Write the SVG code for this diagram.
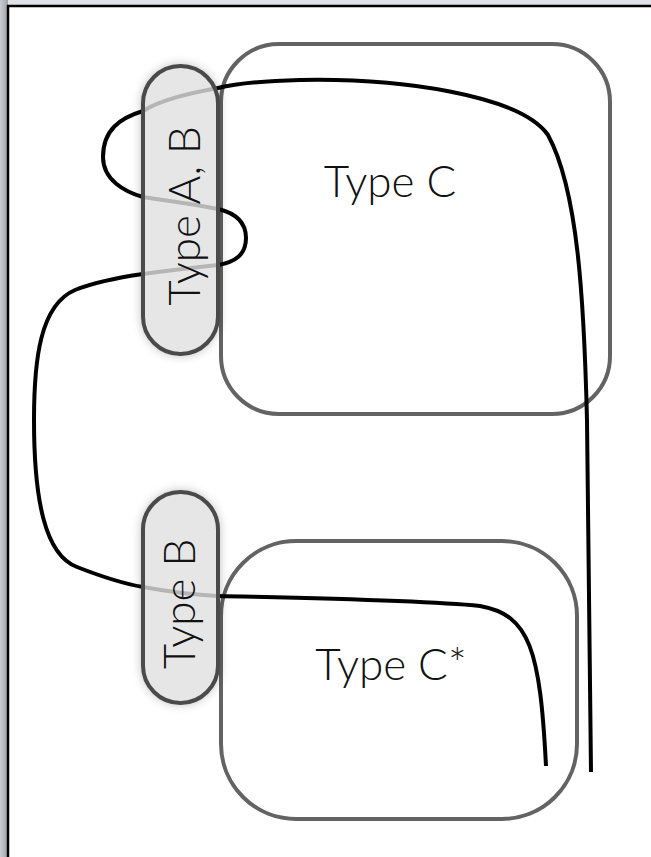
<svg xmlns="http://www.w3.org/2000/svg" width="651" height="857" viewBox="0 0 651 857">
<defs>
<style>
.box{fill:none;stroke:#636363;stroke-width:4}
.pill{fill:#e6e6e6;stroke:none}
.pillstroke{fill:none;stroke:#4a4a4a;stroke-width:4}
.wire{fill:none;stroke:#000;stroke-width:4}
.wiregray{fill:none;stroke:#b5b5b5;stroke-width:4}
.label{font-family:Lato,"Liberation Sans",sans-serif;font-weight:300;font-size:44px;fill:#111}
</style>
<linearGradient id="leftstrip" x1="0" y1="0" x2="1" y2="0">
<stop offset="0" stop-color="#c9cdd2"/>
<stop offset="1" stop-color="#9ea2a7"/>
</linearGradient>
<filter id="shadow" x="-40%" y="-20%" width="180%" height="140%">
<feGaussianBlur stdDeviation="6"/>
</filter>
<clipPath id="clipAB"><rect x="143" y="66" width="75" height="288" rx="37.5"/></clipPath>
<clipPath id="clipB"><rect x="143" y="492" width="75" height="211" rx="37.5"/></clipPath>
</defs>
<rect x="0" y="0" width="651" height="857" fill="#dfe2e6"/>
<rect x="0" y="0" width="8" height="857" fill="url(#leftstrip)"/>
<rect x="8" y="6" width="643" height="851" fill="#fff"/>
<path d="M7 6H651M8 5V857" stroke="#000" stroke-width="2.5" fill="none"/>

<g id="typeC">
<rect class="box" x="221" y="44" width="389" height="370" rx="58"/>
<text class="label" x="390" y="197" text-anchor="middle">Type C</text>
</g>
<g id="typeCstar">
<rect class="box" x="221" y="541" width="356" height="278" rx="75"/>
<text class="label" x="391" y="680" text-anchor="middle">Type C*</text>
</g>

<g id="connectors">
<path class="wire" d="M591 772 L587 420 C584 300 578 190 548 135 C520 95 400 78 300 80 C260 81 230 85 218 88 C190 93 160 100 143 111 C120 118 103 130 103 157 C103 180 125 192 143 197 C170 201 200 205 218 209 C235 213 246 222 246 238 C246 255 235 262 218 265 C190 268 165 271 143 274 C115 278 90 284 75 290 C40 305 34 360 34 420 C34 500 45 555 77 567 C100 576 125 584 143 587 C170 592 195 595 218 596 C300 598 420 600 480 606 C530 615 540 650 546 766"/>
</g>

<g id="typeAB">
<rect x="143" y="66" width="75" height="288" rx="37.5" fill="#000" opacity="0.35" filter="url(#shadow)"/>
<rect class="pill" x="143" y="66" width="75" height="288" rx="37.5"/>
<path class="wiregray" clip-path="url(#clipAB)" d="M300 80 C260 81 230 85 218 88 C190 93 160 100 143 111 M143 197 C170 201 200 205 218 209 M218 265 C190 268 165 271 143 274"/>
<rect class="pillstroke" x="143" y="66" width="75" height="288" rx="37.5"/>
<text class="label" transform="translate(200,216) rotate(-90)" text-anchor="middle">Type A, B</text>
</g>

<g id="typeB">
<rect x="143" y="492" width="75" height="211" rx="37.5" fill="#000" opacity="0.35" filter="url(#shadow)"/>
<rect class="pill" x="143" y="492" width="75" height="211" rx="37.5"/>
<path class="wiregray" clip-path="url(#clipB)" d="M77 567 C100 576 125 584 143 587 C170 592 195 595 218 596 C260 597 280 597 300 598"/>
<rect class="pillstroke" x="143" y="492" width="75" height="211" rx="37.5"/>
<text class="label" transform="translate(195,604) rotate(-90)" text-anchor="middle">Type B</text>
</g>
</svg>
